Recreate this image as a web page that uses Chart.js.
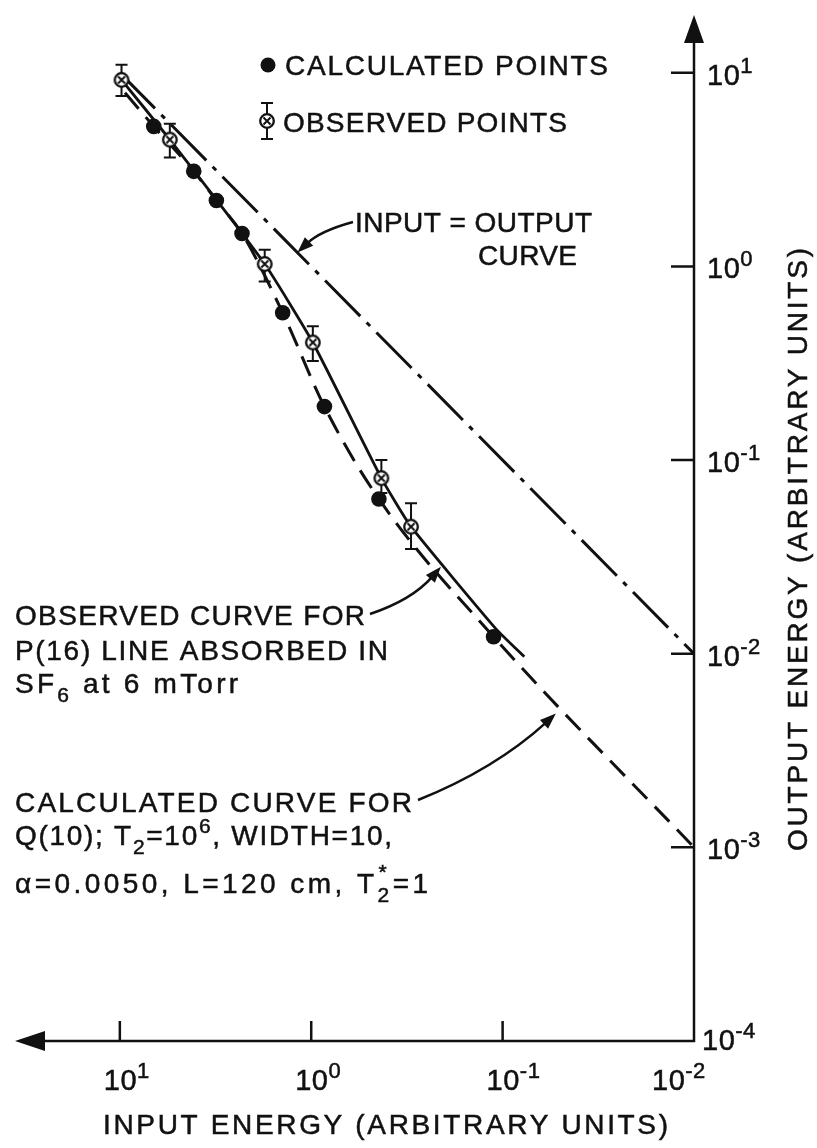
<!DOCTYPE html>
<html>
<head>
<meta charset="utf-8">
<script src="https://cdn.jsdelivr.net/npm/chart.js@4.4.1/dist/chart.umd.min.js"></script>
<style>
  html, body { margin: 0; padding: 0; background: #fff; }
</style>
</head>
<body>
<canvas id="chart" width="817" height="1148"></canvas>
<script>
// values (log-log, arbitrary units)
const calcX = [6.65, 4.11, 3.13, 2.30, 1.41, 0.853, 0.443, 0.1115];
const calcY = [5.29, 3.10, 2.19, 1.48, 0.577, 0.189, 0.0630, 0.01225];

const obsX = [9.8, 5.48, 1.75, 0.981, 0.430, 0.301];
const obsY = [9.2, 4.52, 1.03, 0.405, 0.0807, 0.0453];
const obsHigh = [11.0, 5.46, 1.22, 0.492, 0.100, 0.0599];
const obsLow = [7.6, 3.65, 0.837, 0.325, 0.0676, 0.0348];

const calcCurveX = [9.4, 6.65, 4.11, 3.13, 2.30, 1.41, 0.853, 0.443, 0.1115, 0.01];
const calcCurveY = [7.9, 5.29, 3.10, 2.19, 1.48, 0.577, 0.189, 0.0630, 0.01225, 0.001];

const obsCurveX = [9.8, 5.48, 1.75, 0.981, 0.430, 0.301, 0.1084, 0.0771];
const obsCurveY = [9.2, 4.52, 1.03, 0.405, 0.0807, 0.0453, 0.01345, 0.00966];

const unityX = [10, 0.01];
const unityY = [10, 0.01];

const xTicks = [10, 1, 0.1, 0.01];
const xTickExp = ["1", "0", "-1", "-2"];
const yTicks = [10, 1, 0.1, 0.01, 0.001, 0.0001];
const yTickExp = ["1", "0", "-1", "-2", "-3", "-4"];

const INK = "#111";
const FONT = '"Liberation Sans", Arial, sans-serif';

const pts = (xs, ys) => xs.map((x, i) => ({ x: x, y: ys[i] }));

// circle with a cross, used for the observed points
function obsMarker() {
  const c = document.createElement("canvas");
  c.width = 20; c.height = 20;
  const g = c.getContext("2d");
  g.lineWidth = 2.3; g.strokeStyle = INK; g.fillStyle = "#fff";
  g.beginPath(); g.arc(10, 10, 6.8, 0, Math.PI * 2); g.fill(); g.stroke();
  const d = 3.5;
  g.lineWidth = 2;
  g.beginPath();
  g.moveTo(10 - d, 10 - d); g.lineTo(10 + d, 10 + d);
  g.moveTo(10 + d, 10 - d); g.lineTo(10 - d, 10 + d);
  g.stroke();
  return c;
}
const marker = obsMarker();

// text with sub/superscripts, stretched to a width with letter spacing
function rich(ctx, parts, x, y, width, big) {
  big = big || 28;
  const bigF = big + "px " + FONT, smallF = Math.round(big * 0.76) + "px " + FONT;
  ctx.letterSpacing = "0px";
  ctx.lineWidth = 0.5;
  let nat = 0, n = 0;
  const w = parts.map(p => {
    ctx.font = p[1] ? smallF : bigF;
    if (p[1] === "over") return 0;
    const m = ctx.measureText(p[0]).width;
    nat += m; n += [...p[0]].length;
    return m;
  });
  const ls = width ? (width - nat) / Math.max(1, n - 1) : 0.5;
  ctx.letterSpacing = ls + "px";
  let cx = x, prevX = x;
  parts.forEach((p, i) => {
    ctx.font = p[1] ? smallF : bigF;
    const dy = p[1] === "sup" ? -12 : p[1] === "sub" ? 9 : p[1] === "over" ? -14 : 0;
    const px = p[1] === "over" ? prevX + 1 : cx;
    ctx.fillText(p[0], px, y + dy);
    ctx.strokeText(p[0], px, y + dy);
    if (p[1] === "over") return;
    prevX = cx;
    cx += w[i] + [...p[0]].length * ls;
  });
  ctx.letterSpacing = "0px";
}

function curvedArrow(ctx, tail, ctrl, tip) {
  const ang = Math.atan2(tip.y - ctrl.y, tip.x - ctrl.x);
  const L = 16, W = 6;
  const bx = tip.x - L * Math.cos(ang), by = tip.y - L * Math.sin(ang);
  ctx.beginPath();
  ctx.moveTo(tail.x, tail.y);
  ctx.quadraticCurveTo(ctrl.x, ctrl.y, bx + 3 * Math.cos(ang), by + 3 * Math.sin(ang));
  ctx.stroke();
  ctx.beginPath();
  ctx.moveTo(tip.x, tip.y);
  ctx.lineTo(bx + W * Math.sin(ang), by - W * Math.cos(ang));
  ctx.lineTo(bx - W * Math.sin(ang), by + W * Math.cos(ang));
  ctx.closePath();
  ctx.fill();
}

const figure = {
  id: "figure",
  beforeDraw(chart) {
    const ctx = chart.ctx;
    ctx.save();
    ctx.fillStyle = "#fff";
    ctx.fillRect(0, 0, chart.width, chart.height);
    ctx.restore();
  },
  beforeDatasetDraw(chart, args) {
    // error bars go under the observed markers
    if (args.index !== 0) return;
    const ctx = chart.ctx, xs = chart.scales.x, ys = chart.scales.y;
    ctx.save();
    ctx.strokeStyle = INK; ctx.lineWidth = 2;
    obsX.forEach((v, i) => {
      const px = xs.getPixelForValue(v);
      const hi = ys.getPixelForValue(obsHigh[i]), lo = ys.getPixelForValue(obsLow[i]);
      ctx.beginPath();
      ctx.moveTo(px, hi); ctx.lineTo(px, lo);
      ctx.moveTo(px - 6, hi); ctx.lineTo(px + 6, hi);
      ctx.moveTo(px - 6, lo); ctx.lineTo(px + 6, lo);
      ctx.stroke();
    });
    ctx.restore();
  },
  afterDatasetsDraw(chart) {
    const ctx = chart.ctx, xs = chart.scales.x, ys = chart.scales.y;
    const a = chart.chartArea;
    const x0 = xs.getPixelForValue(0.01), y0 = ys.getPixelForValue(0.0001);
    ctx.save();
    ctx.strokeStyle = INK; ctx.fillStyle = INK;
    ctx.lineWidth = 2.5; ctx.lineCap = "butt";

    // axes with arrowheads
    ctx.beginPath();
    ctx.moveTo(a.left + 20, y0); ctx.lineTo(x0, y0); ctx.lineTo(x0, a.top + 20);
    ctx.stroke();
    ctx.beginPath();
    ctx.moveTo(a.left, y0); ctx.lineTo(a.left + 30, y0 - 10); ctx.lineTo(a.left + 30, y0 + 10);
    ctx.closePath(); ctx.fill();
    ctx.beginPath();
    ctx.moveTo(x0, a.top); ctx.lineTo(x0 - 10, a.top + 28); ctx.lineTo(x0 + 10, a.top + 28);
    ctx.closePath(); ctx.fill();

    // ticks
    ctx.beginPath();
    xTicks.slice(0, 3).forEach(v => {
      const px = xs.getPixelForValue(v);
      ctx.moveTo(px, y0); ctx.lineTo(px, y0 - 20);
    });
    yTicks.slice(0, 5).forEach(v => {
      const py = ys.getPixelForValue(v);
      ctx.moveTo(x0, py); ctx.lineTo(x0 - 23, py);
    });
    ctx.stroke();

    // tick labels
    ctx.textBaseline = "alphabetic"; ctx.textAlign = "left";
    xTicks.forEach((v, i) => {
      const px = xs.getPixelForValue(v);
      const left = i === 3 ? px - 42 : px - 16;
      rich(ctx, [["10"], [xTickExp[i], "sup"]], left, y0 + 49, 0, 29);
    });
    yTicks.forEach((v, i) => {
      const py = ys.getPixelForValue(v);
      if (i === 5) rich(ctx, [["10"], [yTickExp[i], "sup"]], x0 + 8, py + 9, 0, 29);
      else rich(ctx, [["10"], [yTickExp[i], "sup"]], x0 + 13, py + 12, 0, 29);
    });

    // axis titles
    rich(ctx, [["INPUT ENERGY (ARBITRARY UNITS)"]], 103, 1134, 565);
    ctx.save();
    ctx.translate(807, 851);
    ctx.rotate(-Math.PI / 2);
    rich(ctx, [["OUTPUT ENERGY (ARBITRARY UNITS)"]], 0, 0, 603);
    ctx.restore();

    // legend
    ctx.beginPath(); ctx.arc(268, 65, 7.5, 0, Math.PI * 2); ctx.fill();
    rich(ctx, [["CALCULATED POINTS"]], 285, 75, 323);
    ctx.lineWidth = 2;
    ctx.beginPath();
    ctx.moveTo(267, 103); ctx.lineTo(267, 139);
    ctx.moveTo(261, 103); ctx.lineTo(273, 103);
    ctx.moveTo(261, 139); ctx.lineTo(273, 139);
    ctx.stroke();
    ctx.drawImage(marker, 257, 111);
    rich(ctx, [["OBSERVED POINTS"]], 283, 132, 284);

    // annotations
    rich(ctx, [["INPUT = OUTPUT"]], 355, 232, 237);
    rich(ctx, [["CURVE"]], 478, 265, 99);
    rich(ctx, [["OBSERVED CURVE FOR"]], 15, 625, 350);
    rich(ctx, [["P(16) LINE ABSORBED IN"]], 15, 660, 373);
    rich(ctx, [["SF"], ["6", "sub"], [" at 6 mTorr"]], 15, 693, 223);
    rich(ctx, [["CALCULATED CURVE FOR"]], 15, 812, 397);
    rich(ctx, [["Q(10); T"], ["2", "sub"], ["=10"], ["6", "sup"], [", WIDTH=10,"]], 15, 845, 377);
    rich(ctx, [["\u03b1=0.0050, L=120 cm, T"], ["2", "sub"], ["*", "over"], ["=1"]], 15, 893, 413);

    ctx.lineWidth = 2.5;
    const at = (vx, vy) => ({ x: xs.getPixelForValue(vx), y: ys.getPixelForValue(vy) });
    curvedArrow(ctx, { x: 353, y: 222 }, { x: 320, y: 231 }, at(1.18, 1.18));
    curvedArrow(ctx, { x: 370, y: 614 }, { x: 412, y: 600 }, at(0.210, 0.0281));
    curvedArrow(ctx, { x: 418, y: 800 }, { x: 495, y: 769 }, at(0.0527, 0.00491));
    ctx.restore();
  }
};

new Chart(document.getElementById("chart"), {
  type: "scatter",
  data: {
    datasets: [
      {
        data: pts(obsX, obsY),
        pointStyle: marker,
        pointRadius: 7,
        showLine: false
      },
      {
        data: pts(calcX, calcY),
        pointStyle: "circle",
        pointRadius: 7.8,
        backgroundColor: INK,
        borderWidth: 0,
        showLine: false
      },
      {
        data: pts(obsCurveX, obsCurveY),
        showLine: true,
        pointRadius: 0,
        borderColor: INK,
        borderWidth: 2.8,
        tension: 0.15
      },
      {
        data: pts(calcCurveX, calcCurveY),
        showLine: true,
        pointRadius: 0,
        borderColor: INK,
        borderWidth: 3,
        borderDash: [21, 11],
        cubicInterpolationMode: "monotone"
      },
      {
        data: pts(unityX, unityY),
        showLine: true,
        pointRadius: 0,
        borderColor: INK,
        borderWidth: 3,
        borderDash: [50, 9, 5, 9]
      }
    ]
  },
  options: {
    responsive: false,
    animation: false,
    layout: { padding: { left: 15, right: 123, top: 15, bottom: 107 } },
    plugins: { legend: { display: false }, tooltip: { enabled: false } },
    scales: {
      x: { type: "logarithmic", reverse: true, min: 0.01, max: 35.3, display: false },
      y: { type: "logarithmic", min: 0.0001, max: 19.9, display: false }
    }
  },
  plugins: [figure]
});
</script>
</body>
</html>
